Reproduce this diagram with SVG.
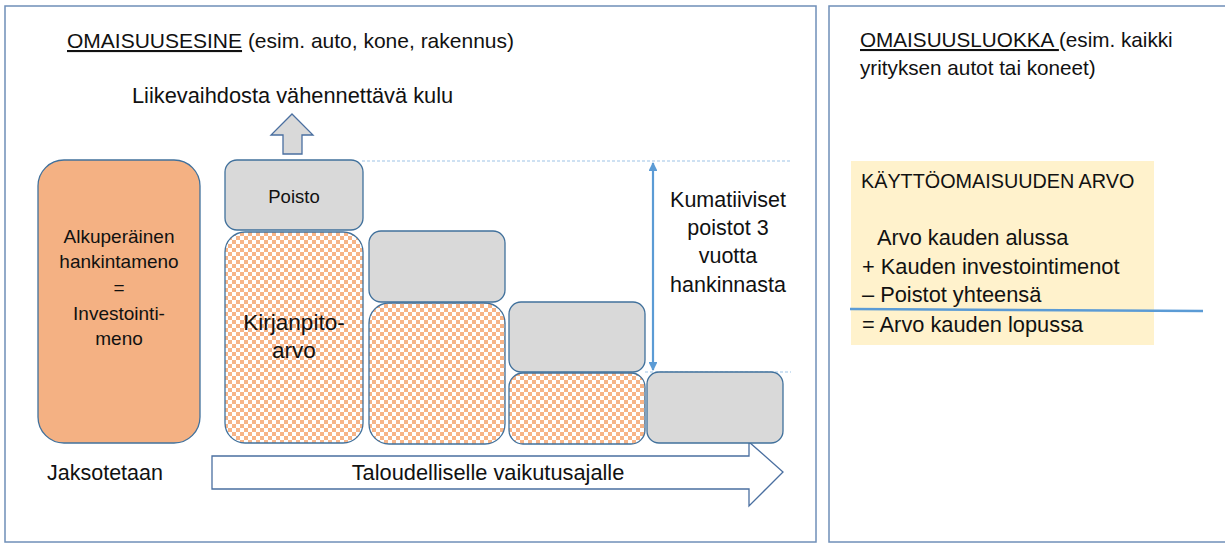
<svg xmlns="http://www.w3.org/2000/svg" width="1225" height="560" viewBox="0 0 1225 560">
<style>
text{font-family:"Liberation Sans",Arial,sans-serif;fill:#111}
.panel{fill:#fff;stroke:#6f8fb8;stroke-width:1.5}
.box{stroke:#41719c;stroke-width:1.3}
.gray{fill:#d9d9d9}
.org{fill:#f4b183}
.chk{fill:url(#chk)}
.c{text-anchor:middle}
.dash{stroke:#9dc3e6;stroke-width:1;stroke-dasharray:3 2;fill:none}
</style>
<defs>
<pattern id="chk" width="8" height="8" patternUnits="userSpaceOnUse">
<rect width="8" height="8" fill="#fff"/>
<rect width="4" height="4" fill="#f7b487"/>
<rect x="4" y="4" width="4" height="4" fill="#f7b487"/>
</pattern>
<marker id="ah" viewBox="0 0 10 10" refX="9" refY="5" markerWidth="4" markerHeight="4" orient="auto-start-reverse" markerUnits="strokeWidth">
<path d="M0,0 L10,5 L0,10 z" fill="#5b9bd5"/>
</marker>
</defs>
<rect width="1225" height="560" fill="#fff"/>
<g id="panel-left">
<rect class="panel" x="5" y="6" width="811" height="536"/>
<text x="67" y="48" font-size="21"><tspan text-decoration="underline">OMAISUUSESINE</tspan> (esim. auto, kone, rakennus)</text>
<text x="132" y="103" font-size="21.8">Liikevaihdosta vähennettävä kulu</text>
<text x="47" y="480" font-size="21.5">Jaksotetaan</text>
</g>
<g id="panel-right">
<rect class="panel" x="829" y="6" width="400" height="536"/>
<text x="860" y="47" font-size="20.7"><tspan text-decoration="underline">OMAISUUSLUOKKA </tspan>(esim. kaikki</text>
<text x="860" y="75" font-size="20.7">yrityksen autot tai koneet)</text>
</g>
<g id="connectors">
<path d="M212,456 H749 V442 L783,472 L749,506 V489 H212 Z" fill="#fff" stroke="#4a6fa0" stroke-width="1.3"/>
<path d="M292,114 L313,135 H302 V154 H283 V135 H271 Z" fill="#d9d9d9" stroke="#4a6fa0" stroke-width="1.3"/>
<line class="dash" x1="362" y1="161" x2="791" y2="161"/>
<line class="dash" x1="645" y1="372" x2="791" y2="372"/>
<line x1="653" y1="163" x2="653" y2="370" stroke="#5b9bd5" stroke-width="2.2" marker-start="url(#ah)" marker-end="url(#ah)"/>
</g>
<g id="arrow-label">
<text x="488" y="480" font-size="21.8" class="c">Taloudelliselle vaikutusajalle</text>
</g>
<g id="node-alkuperainen">
<rect class="box org" x="38" y="160" width="162" height="283" rx="26"/>
<text class="c" x="119" y="243" font-size="19">Alkuperäinen</text>
<text class="c" x="119" y="268" font-size="19">hankintameno</text>
<text class="c" x="119" y="294" font-size="19">=</text>
<text class="c" x="119" y="320" font-size="19">Investointi-</text>
<text class="c" x="119" y="345" font-size="19">meno</text>
</g>
<g id="node-poisto1">
<rect class="box gray" x="225" y="160" width="138" height="70" rx="12"/>
<text class="c" x="294" y="203" font-size="18.5">Poisto</text>
</g>
<g id="node-kirjanpito1">
<rect class="box chk" x="225" y="232" width="138" height="211" rx="20"/>
<text class="c" x="294" y="330" font-size="22.5">Kirjanpito-</text>
<text class="c" x="294" y="358" font-size="22.5">arvo</text>
</g>
<g id="node-poisto2">
<rect class="box gray" x="369" y="231" width="136" height="71" rx="12"/>
</g>
<g id="node-kirjanpito2">
<rect class="box chk" x="369" y="303" width="136" height="141" rx="20"/>
</g>
<g id="node-poisto3">
<rect class="box gray" x="509" y="302" width="136" height="70" rx="12"/>
</g>
<g id="node-kirjanpito3">
<rect class="box chk" x="509" y="373" width="136" height="71" rx="14"/>
</g>
<g id="node-poisto4">
<rect class="box gray" x="647" y="372" width="136" height="71" rx="12"/>
</g>
<g id="label-kumulatiiviset">
<text class="c" x="728" y="207" font-size="21.5">Kumatiiviset</text>
<text class="c" x="728" y="235" font-size="21.5">poistot 3</text>
<text class="c" x="728" y="263" font-size="21.5">vuotta</text>
<text class="c" x="728" y="292" font-size="21.5">hankinnasta</text>
</g>
<g id="node-kayttoomaisuus">
<rect x="851" y="161" width="303" height="184" fill="#fff2cc"/>
<text x="861" y="188" font-size="19.8">KÄYTTÖOMAISUUDEN ARVO</text>
<text x="877" y="245" font-size="21.8">Arvo kauden alussa</text>
<text x="862" y="274" font-size="21.8">+ Kauden investointimenot</text>
<text x="862" y="302" font-size="21.8">– Poistot yhteensä</text>
<text x="862" y="332" font-size="21.8">= Arvo kauden lopussa</text>
<line x1="850" y1="309" x2="1203" y2="311" stroke="#5b9bd5" stroke-width="2.5"/>
</g>
</svg>
